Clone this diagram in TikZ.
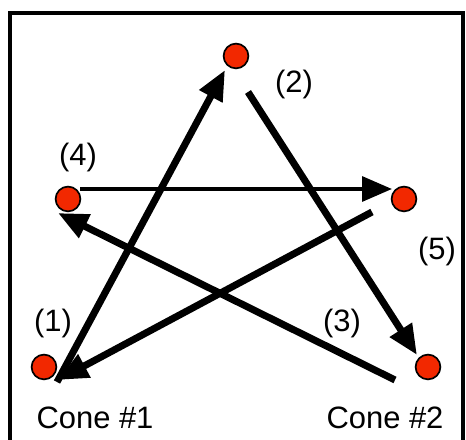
\documentclass[tikz,border=0pt]{standalone}
\usepackage{fontspec}
\setmainfont{Liberation Sans}
\usetikzlibrary{calc,arrows.meta}
\definecolor{spotred}{RGB}{242,40,0}

\begin{document}
\begin{tikzpicture}[
    spot/.style={circle, draw=black, line width=1.2pt, fill=spotred, minimum size=0.62cm, inner sep=0pt},
    leg/.style={line width=5pt, -{Triangle[length=0.75cm, width=0.62cm]}},
    lbl/.style={inner sep=0pt, font=\fontsize{22pt}{26pt}\selectfont}
  ]
  \useasboundingbox (0, 0) rectangle (11.65, 11);

  % frame, open at the bottom
  \draw[line width=3.5pt] (0.25, 0) -- (0.25, 10.675) -- (11.575, 10.675) -- (11.575, 0);

  % cone positions
  \node[spot] (T) at (5.9, 9.6) {};
  \node[spot] (L) at (1.7, 6.025) {};
  \node[spot] (R) at (10.1, 6.025) {};
  \node[spot] (P) at (1.1, 1.825) {};
  \node[spot] (Q) at (10.7, 1.825) {};

  % arrow ends, set off from the dots
  \coordinate (a1) at ($(P)+(0.325, -0.375)$);
  \coordinate (b1) at ($(T)+(-0.275, -0.35)$);
  \coordinate (a2) at ($(T)+(0.3, -0.9)$);
  \coordinate (b2) at ($(Q)+(-0.275, 0.3)$);
  \coordinate (a3) at ($(Q)+(-0.825, -0.325)$);
  \coordinate (b3) at ($(L)+(-0.25, -0.35)$);
  \coordinate (a4) at ($(L)+(0.3, 0.25)$);
  \coordinate (b4) at ($(R)+(-0.3, 0.25)$);
  \coordinate (a5) at ($(R)+(-0.8, -0.325)$);
  \coordinate (b5) at ($(P)+(0.35, -0.325)$);

  \draw[leg] (a1) -- (b1);
  \draw[leg] (a2) -- (b2);
  \draw[leg] (a3) -- (b3);
  \draw[leg, line width=2.8pt] (a4) -- (b4);
  \draw[leg] (a5) -- (b5);

  % step numbers
  \node[lbl] (n1) at (1.325, 2.9) {(1)};
  \node[lbl] (n2) at (7.35, 8.875) {(2)};
  \node[lbl] (n3) at (8.55, 2.9) {(3)};
  \node[lbl] (n4) at (1.95, 7.05) {(4)};
  \node[lbl] (n5) at (10.925, 4.7) {(5)};

  \node[lbl, anchor=base] (c1) at (2.375, 0.275) {Cone \#1};
  \node[lbl, anchor=base] (c2) at (9.625, 0.275) {Cone \#2};
\end{tikzpicture}
\end{document}
